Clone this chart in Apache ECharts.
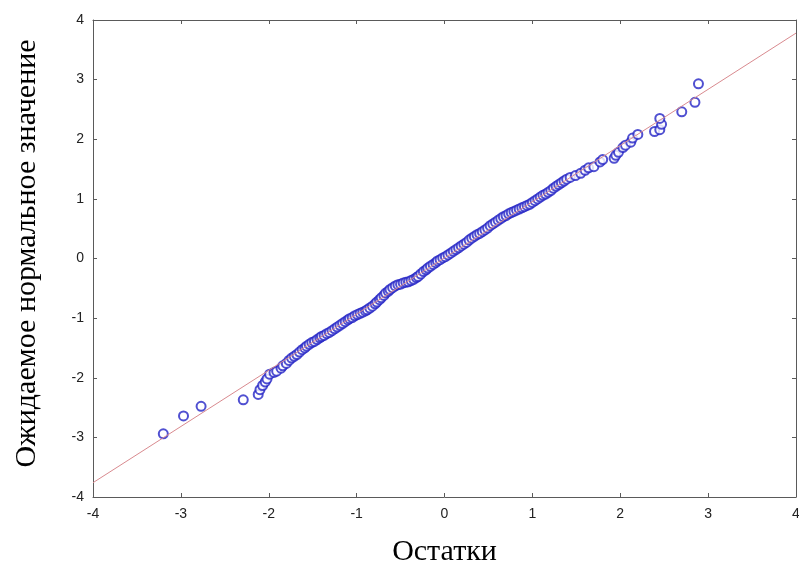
<!DOCTYPE html>
<html>
<head>
<meta charset="utf-8">
<script src="https://cdn.jsdelivr.net/npm/echarts@6/dist/echarts.min.js"></script>
<style>
  html, body { margin: 0; padding: 0; background: #fff; overflow: hidden; }
  #chart { width: 799px; height: 570px; }
</style>
</head>
<body>
<div id="chart"></div>
<script>
// остатки (ось X) и ожидаемые нормальные значения (ось Y)
var residuals = [
  -3.20, -2.97, -2.77, -2.29, -2.12, -2.10, -2.07, -2.04, -2.02, -1.99, -1.94, -1.91, -1.86, -1.84, -1.80, -1.77,
  -1.74, -1.71, -1.68, -1.65, -1.62, -1.59, -1.57, -1.54, -1.51, -1.48, -1.45, -1.42, -1.40, -1.37, -1.34, -1.31,
  -1.28, -1.25, -1.22, -1.19, -1.16, -1.13, -1.10, -1.08, -1.05, -1.02, -0.99, -0.96, -0.93, -0.90, -0.88, -0.85,
  -0.82, -0.79, -0.77, -0.74, -0.72, -0.69, -0.67, -0.64, -0.62, -0.59, -0.56, -0.53, -0.50, -0.47, -0.44, -0.41,
  -0.38, -0.35, -0.32, -0.30, -0.27, -0.24, -0.21, -0.19, -0.16, -0.13, -0.10, -0.08, -0.05, -0.02, 0.01, 0.04,
  0.07, 0.10, 0.13, 0.16, 0.19, 0.22, 0.25, 0.28, 0.31, 0.34, 0.37, 0.40, 0.43, 0.46, 0.49, 0.52,
  0.55, 0.58, 0.61, 0.64, 0.67, 0.70, 0.73, 0.76, 0.79, 0.82, 0.85, 0.88, 0.91, 0.94, 0.97, 1.00,
  1.03, 1.06, 1.09, 1.12, 1.15, 1.18, 1.21, 1.24, 1.27, 1.30, 1.33, 1.36, 1.39,
  1.43, 1.49, 1.55, 1.60, 1.64, 1.70, 1.77, 1.80, 1.93, 1.95, 1.98, 2.03, 2.06, 2.12, 2.14, 2.20,
  2.39, 2.45, 2.47, 2.45, 2.70, 2.85, 2.89
];
var expected = [
  -2.94, -2.64, -2.48, -2.37, -2.28, -2.20, -2.13, -2.07, -2.02, -1.94, -1.91, -1.89, -1.84, -1.80, -1.76, -1.71,
  -1.67, -1.64, -1.61, -1.57, -1.53, -1.50, -1.47, -1.44, -1.41, -1.39, -1.36, -1.33, -1.31, -1.29, -1.26, -1.24,
  -1.21, -1.18, -1.15, -1.12, -1.09, -1.06, -1.03, -1.01, -0.99, -0.96, -0.94, -0.92, -0.90, -0.88, -0.86, -0.83,
  -0.80, -0.76, -0.73, -0.69, -0.66, -0.62, -0.58, -0.55, -0.52, -0.49, -0.46, -0.44, -0.43, -0.41, -0.40, -0.39,
  -0.37, -0.35, -0.32, -0.30, -0.26, -0.22, -0.19, -0.16, -0.13, -0.10, -0.07, -0.04, -0.02, 0.01, 0.03, 0.06,
  0.09, 0.12, 0.15, 0.18, 0.21, 0.24, 0.27, 0.31, 0.34, 0.37, 0.40, 0.42, 0.45, 0.48, 0.51, 0.55,
  0.58, 0.61, 0.64, 0.67, 0.70, 0.72, 0.75, 0.77, 0.79, 0.81, 0.83, 0.85, 0.87, 0.89, 0.91, 0.94,
  0.97, 1.00, 1.03, 1.06, 1.08, 1.11, 1.14, 1.18, 1.21, 1.24, 1.27, 1.30, 1.33,
  1.36, 1.39, 1.43, 1.48, 1.52, 1.54, 1.62, 1.66, 1.68, 1.73, 1.78, 1.86, 1.90, 1.95, 2.02, 2.08,
  2.13, 2.16, 2.25, 2.35, 2.46, 2.62, 2.93
];
// опорная прямая
var lineX = [-4, 4];
var lineY = [-3.76, 3.78];
var ticks = [-4, -3, -2, -1, 0, 1, 2, 3, 4];

var points = residuals.map(function (x, i) { return [x, expected[i]]; });
var linePts = lineX.map(function (x, i) { return [x, lineY[i]]; });

var myChart = echarts.init(document.getElementById('chart'));

var axisCommon = {
  type: 'value',
  min: ticks[0],
  max: ticks[ticks.length - 1],
  interval: 1,
  splitLine: { show: false },
  axisLine: { show: true, onZero: false, lineStyle: { color: '#5a5a5a', width: 1 } },
  axisTick: { show: true, inside: true, length: 4, lineStyle: { color: '#5a5a5a' } }
};
var labelStyle = {
  color: '#222',
  fontFamily: 'Liberation Sans, Arial, sans-serif',
  fontSize: 14
};
var titleStyle = {
  color: '#000',
  fontFamily: 'Liberation Serif, Times New Roman, serif',
  fontSize: 30
};

var option = {
  backgroundColor: '#fff',
  animation: false,
  grid: { left: 93, right: 3, top: 20, bottom: 73, outerBoundsMode: 'none', containLabel: false },
  xAxis: [
    Object.assign({}, axisCommon, {
      position: 'bottom',
      name: 'Остатки',
      nameLocation: 'middle',
      nameGap: 40,
      nameTextStyle: titleStyle,
      axisLabel: Object.assign({ margin: 10 }, labelStyle)
    }),
    Object.assign({}, axisCommon, {
      position: 'top',
      axisLabel: { show: false }
    })
  ],
  yAxis: [
    Object.assign({}, axisCommon, {
      position: 'left',
      name: 'Ожидаемое нормальное значение',
      nameLocation: 'middle',
      nameGap: 51,
      nameRotate: 90,
      nameTextStyle: Object.assign({ padding: [0, 0, 0, 10] }, titleStyle),
      axisLabel: Object.assign({ margin: 9 }, labelStyle)
    }),
    Object.assign({}, axisCommon, {
      position: 'right',
      axisLabel: { show: false }
    })
  ],
  series: [
    {
      type: 'line',
      xAxisIndex: 0,
      yAxisIndex: 0,
      data: linePts,
      symbol: 'none',
      lineStyle: { color: '#d98a8f', width: 1 },
      z: 3
    },
    {
      type: 'scatter',
      xAxisIndex: 0,
      yAxisIndex: 0,
      data: points,
      symbol: 'emptyCircle',
      symbolSize: 9,
      itemStyle: { color: '#2424c6', borderWidth: 1.5 },
      z: 2
    }
  ]
};

myChart.setOption(option);
</script>
</body>
</html>
